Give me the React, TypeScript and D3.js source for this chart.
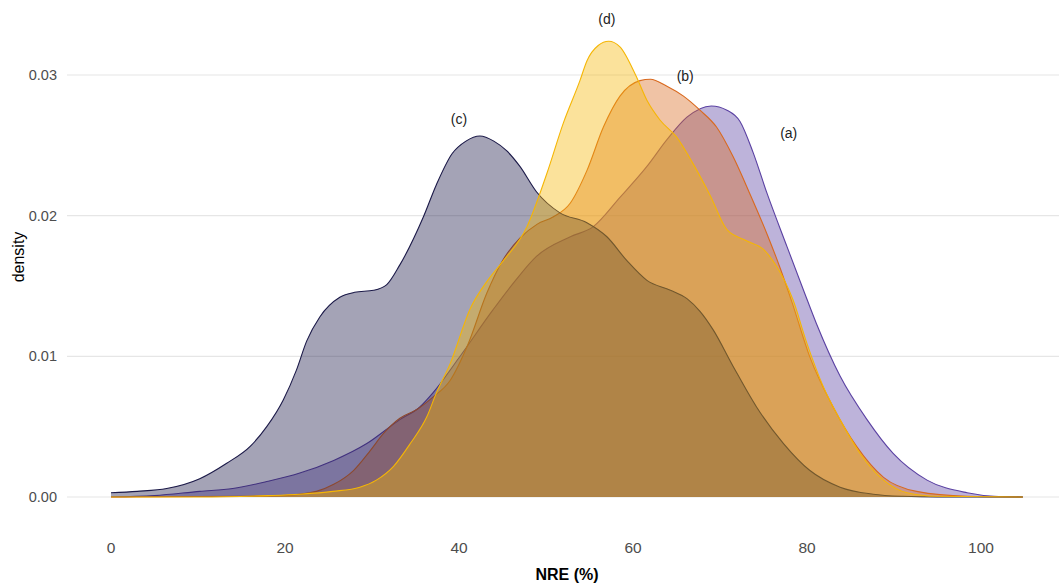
import React from "react";
import * as d3 from "d3";

const W = 1059;
const H = 583;

// density series: [NRE %, density]
const seriesA: [number, number][] = [
  [0, 0], [5, 0.0001], [10.2, 0.0004], [14, 0.0006], [17.9, 0.0011], [21.7, 0.0017],
  [25.6, 0.0026], [29.4, 0.0038], [33.2, 0.0055], [35.5, 0.0064], [37, 0.0074],
  [40, 0.0099], [43.9, 0.0133], [46.5, 0.0154], [48.9, 0.0171], [52.8, 0.0185],
  [55.4, 0.0192], [58.5, 0.0213], [61.6, 0.0235], [63.9, 0.0254], [66.2, 0.027],
  [69, 0.0278], [70.8, 0.0275], [72.3, 0.0267], [73.8, 0.0245], [75.4, 0.0216],
  [77.7, 0.0178], [79.6, 0.0147], [81.1, 0.0123], [83.8, 0.0086], [86.9, 0.0055],
  [89.9, 0.0031], [93.8, 0.0012], [98.4, 0.0003], [101.5, 0.00005], [104.8, 0],
];

const seriesB: [number, number][] = [
  [0, 0], [15, 0.00005], [19.8, 0.0001], [23.6, 0.0004], [25.6, 0.0009], [27.9, 0.0019],
  [29.8, 0.0033], [31.3, 0.0045], [33.2, 0.0056], [35.1, 0.0062], [37, 0.0071],
  [39, 0.0083], [41, 0.0108], [43.2, 0.0145], [45, 0.0168], [47, 0.0184], [49, 0.0194],
  [50.8, 0.0199], [52.8, 0.0209], [54.7, 0.0232], [56.6, 0.0263], [58.5, 0.0285],
  [60.8, 0.0296], [62, 0.0297], [63.9, 0.0292], [65.8, 0.0285], [67.7, 0.0275],
  [69.6, 0.0263], [71.5, 0.0242], [73.4, 0.0216], [75.4, 0.0187], [76.9, 0.0163],
  [78.3, 0.0138], [80.3, 0.01], [83, 0.0064], [85.7, 0.0036], [88.8, 0.0014],
  [92.6, 0.0004], [98.4, 0.00005], [104.8, 0],
];

const seriesC: [number, number][] = [
  [0, 0.0003], [3, 0.0004], [6.4, 0.0006], [10.2, 0.0013], [13.3, 0.0024], [16, 0.0036],
  [17.9, 0.005], [19.8, 0.0069], [21.3, 0.009], [22.5, 0.0111], [24, 0.0128],
  [26.3, 0.0142], [28, 0.01455], [30.2, 0.0147], [31.7, 0.0151], [33.2, 0.0165],
  [35.9, 0.0199], [37.4, 0.0222], [39.2, 0.0244], [40.8, 0.0253], [42.4, 0.02566],
  [44, 0.0253], [45.5, 0.0246], [47, 0.0235], [48.9, 0.0217], [51.6, 0.0202],
  [54.7, 0.0195], [57, 0.0185], [59.3, 0.0168], [61.6, 0.0154], [64.3, 0.0147],
  [66.2, 0.0141], [67.7, 0.0132], [69.2, 0.0119], [71.5, 0.0093], [74.2, 0.0064],
  [77.3, 0.0038], [80.3, 0.0019], [83.8, 0.0007], [87.6, 0.0002], [91, 0.00005],
  [95, 0], [104.8, 0],
];

const seriesD: [number, number][] = [
  [0, 0], [10, 0], [18, 0.0001], [21.7, 0.0002], [25.5, 0.0004], [28.6, 0.0007],
  [30.5, 0.0012], [32.5, 0.0022], [34.4, 0.0038], [36.3, 0.0057], [37.4, 0.0074],
  [39, 0.0095], [41.3, 0.0134], [43.3, 0.0154], [45.1, 0.0168], [47.8, 0.0192],
  [50.1, 0.023], [52, 0.0266], [53.9, 0.0296], [54.7, 0.031], [56, 0.0321],
  [57.2, 0.0324], [58.5, 0.032], [60.3, 0.03], [61.6, 0.0282], [63.1, 0.0268],
  [65, 0.0256], [66.9, 0.0237], [68.9, 0.0214], [70.8, 0.019], [73.1, 0.0182],
  [75, 0.0176], [76.5, 0.0164], [78.4, 0.014], [80, 0.0109], [81.9, 0.0078],
  [83.8, 0.0055], [86.1, 0.0031], [88.8, 0.0012], [91.5, 0.0003], [95, 0.00005],
  [104.8, 0],
];

const groupNames = ["(a)", "(b)", "(c)", "(d)"];
const groupColors = ["#5a41a2", "#d9691e", "#1b1948", "#f5b605"];
// label anchor positions in data units [x, density]
const labelX = [77.9, 66, 40, 57];
const labelY = [0.0259, 0.0299, 0.0269, 0.034];

const xTicks = [0, 20, 40, 60, 80, 100];
const yTicks = [0, 0.01, 0.02, 0.03];

export default function App() {
  const x = d3.scaleLinear().domain([0, 100]).range([111, 981]);
  const y = d3.scaleLinear().domain([0, 0.03]).range([497, 75]);
  const panelLeft = 67;
  const panelRight = W;

  const all = [seriesA, seriesB, seriesC, seriesD];
  const area = d3
    .area<[number, number]>()
    .x((d) => x(d[0]))
    .y0(y(0))
    .y1((d) => y(d[1]))
    .curve(d3.curveMonotoneX);
  const line = d3
    .line<[number, number]>()
    .x((d) => x(d[0]))
    .y((d) => y(d[1]))
    .curve(d3.curveMonotoneX);

  const font = "'Liberation Sans', Arial, Helvetica, sans-serif";

  return (
    <svg
      width={W}
      height={H}
      style={{ position: "absolute", left: 0, top: 0, background: "#fff" }}
      fontFamily={font}
    >
      {yTicks.map((t) => (
        <line
          key={"g" + t}
          x1={panelLeft}
          x2={panelRight}
          y1={y(t)}
          y2={y(t)}
          stroke="#e6e6e6"
          strokeWidth={1.2}
        />
      ))}
      {all.map((s, i) => (
        <g key={groupNames[i]}>
          <path d={area(s) || ""} fill={groupColors[i]} fillOpacity={0.4} stroke="none" />
          <path d={line(s) || ""} fill="none" stroke={groupColors[i]} strokeWidth={1.1} />
        </g>
      ))}
      {groupNames.map((n, i) => (
        <text
          key={"l" + n}
          x={x(labelX[i])}
          y={y(labelY[i])}
          textAnchor="middle"
          dominantBaseline="central"
          fontSize={14}
          fill="#222"
        >
          {n}
        </text>
      ))}
      {yTicks.map((t) => (
        <text
          key={"yt" + t}
          x={57}
          y={y(t)}
          textAnchor="end"
          dominantBaseline="central"
          fontSize={14.5}
          fill="#4d4d4d"
        >
          {d3.format(".2f")(t)}
        </text>
      ))}
      {xTicks.map((t) => (
        <text
          key={"xt" + t}
          x={x(t)}
          y={547}
          textAnchor="middle"
          dominantBaseline="central"
          fontSize={15.5}
          fill="#4d4d4d"
        >
          {t}
        </text>
      ))}
      <text
        x={18}
        y={257}
        transform={`rotate(-90, 18, 257)`}
        textAnchor="middle"
        dominantBaseline="central"
        fontSize={16}
        fill="#000"
      >
        density
      </text>
      <text
        x={567}
        y={574}
        textAnchor="middle"
        dominantBaseline="central"
        fontSize={16}
        fontWeight="bold"
        fill="#000"
      >
        NRE (%)
      </text>
    </svg>
  );
}
